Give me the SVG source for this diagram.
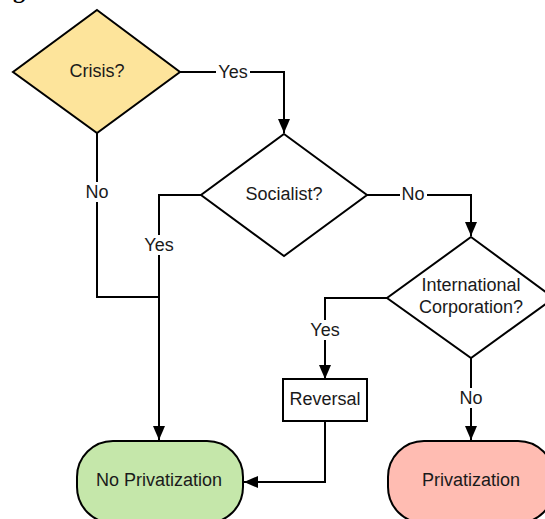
<svg xmlns="http://www.w3.org/2000/svg" width="545" height="519" viewBox="0 0 545 519">
<defs>
<style>
.sh{stroke:#000;stroke-width:2;}
.ln{fill:none;stroke:#000;stroke-width:2;}
.t{font-family:"Liberation Sans",Arial,sans-serif;font-size:18px;fill:#1a1a1a;text-anchor:middle;dominant-baseline:central;}
.bg{fill:#fff;}
</style>
<marker id="ah" viewBox="0 0 14 12" refX="14" refY="6" markerWidth="14" markerHeight="12" markerUnits="userSpaceOnUse" orient="auto">
<path d="M0,0 L14,6 L0,12 Z" fill="#000"/>
</marker>
</defs>
<rect width="545" height="519" fill="#fff"/>
<text x="13" y="-2" font-family="Liberation Serif,serif" font-weight="bold" font-size="24" fill="#000">g</text>
<g id="connectors">
<path class="ln" d="M180,72 H284 V133" marker-end="url(#ah)"/>
<path class="ln" d="M367,195 H471 V236" marker-end="url(#ah)"/>
<path class="ln" d="M97,133 V297 H159"/>
<path class="ln" d="M201,195 H159 V440" marker-end="url(#ah)"/>
<path class="ln" d="M387,298 H325 V379" marker-end="url(#ah)"/>
<path class="ln" d="M325,421 V482 H244" marker-end="url(#ah)"/>
<path class="ln" d="M471,358 V440" marker-end="url(#ah)"/>
<rect class="bg" x="216" y="62" width="34" height="20"/>
<text class="t" x="233" y="72">Yes</text>
<rect class="bg" x="400" y="184" width="27" height="20"/>
<text class="t" x="413" y="194">No</text>
<rect class="bg" x="83" y="182" width="27" height="20"/>
<text class="t" x="97" y="192">No</text>
<rect class="bg" x="142" y="235" width="34" height="20"/>
<text class="t" x="159" y="245">Yes</text>
<rect class="bg" x="308" y="320" width="34" height="20"/>
<text class="t" x="325" y="330">Yes</text>
<rect class="bg" x="458" y="388" width="27" height="20"/>
<text class="t" x="471" y="398">No</text>
</g>
<g id="crisis">
<polygon class="sh" fill="#fde49b" points="97,10 180,72 97,133 13,72"/>
<text class="t" x="97" y="71">Crisis?</text>
</g>
<g id="socialist">
<polygon class="sh" fill="#fff" points="284,134 367,195 284,256 201,195"/>
<text class="t" x="284" y="194">Socialist?</text>
</g>
<g id="international">
<polygon class="sh" fill="#fff" points="471,237 554,298 471,358 387,298"/>
<text class="t" x="471" y="285">International</text>
<text class="t" x="471" y="307">Corporation?</text>
</g>
<g id="reversal">
<rect class="sh" fill="#fff" x="283" y="379" width="84" height="42"/>
<text class="t" x="325" y="399">Reversal</text>
</g>
<g id="noprivatization">
<rect class="sh" fill="#c5e7aa" x="77" y="441" width="166" height="82" rx="36"/>
<text class="t" x="159" y="480">No Privatization</text>
</g>
<g id="privatization">
<rect class="sh" fill="#ffbcb2" x="388" y="441" width="166" height="82" rx="36"/>
<text class="t" x="471" y="480">Privatization</text>
</g>
</svg>
